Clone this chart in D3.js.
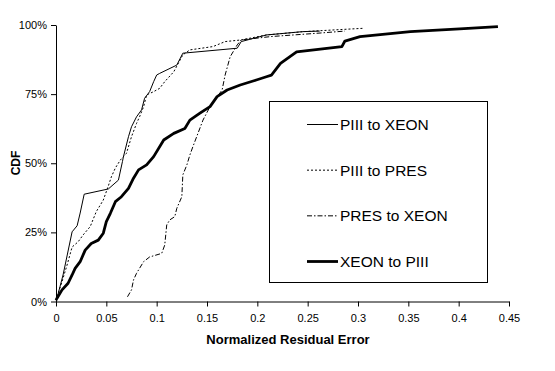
<!DOCTYPE html>
<html>
<head>
<meta charset="utf-8">
<script src="https://cdn.jsdelivr.net/npm/d3@7"></script>
<style>
  body { margin: 0; background: #fff; }
  svg { display: block; font-family: "Liberation Sans", Arial, sans-serif; }
</style>
</head>
<body>
<svg id="chart" width="555" height="371"></svg>
<script>
// [normalized residual error, CDF %]
const piiiToXeon = [
  [0, 0.5], [0.001, 1.3], [0.004, 5.4], [0.007, 9.6], [0.016, 25.2], [0.021, 27.4],
  [0.024, 32.0], [0.028, 38.8], [0.052, 40.7], [0.062, 43.9], [0.066, 50.6],
  [0.067, 52.4], [0.072, 59.6], [0.075, 63.2], [0.080, 66.8], [0.085, 69.3],
  [0.088, 73.5], [0.093, 75.9], [0.097, 79.5], [0.100, 81.9], [0.103, 82.5],
  [0.120, 85.5], [0.126, 89.8], [0.180, 91.6], [0.184, 94.0], [0.209, 96.4],
  [0.245, 97.6], [0.262, 97.8]
];
const piiiToPres = [
  [0, 0.5], [0.006, 7.2], [0.011, 13.2], [0.016, 19.7], [0.022, 21.6], [0.027, 24.1],
  [0.034, 27.1], [0.040, 32.5], [0.047, 36.7], [0.052, 41.8], [0.055, 45.1],
  [0.059, 48.3], [0.064, 51.2], [0.070, 53.6], [0.075, 59.6], [0.080, 64.4],
  [0.083, 66.8], [0.087, 70.4], [0.090, 74.7], [0.097, 75.9], [0.103, 77.1],
  [0.108, 79.5], [0.117, 83.1], [0.126, 89.2], [0.133, 91.0], [0.156, 92.2],
  [0.168, 94.0], [0.184, 94.6], [0.209, 96.4], [0.246, 97.6], [0.285, 98.4],
  [0.305, 98.8]
];
const presToXeon = [
  [0.071, 1.7], [0.075, 4.2], [0.077, 7.8], [0.080, 10.2], [0.087, 14.4],
  [0.093, 16.1], [0.105, 17.4], [0.108, 20.4], [0.110, 27.7], [0.113, 29.5],
  [0.118, 30.7], [0.120, 33.7], [0.125, 37.9], [0.126, 45.8], [0.130, 49.4],
  [0.133, 53.0], [0.136, 56.0], [0.146, 65.6], [0.153, 70.5], [0.165, 76.5],
  [0.168, 81.9], [0.173, 88.5], [0.180, 92.8], [0.184, 94.6], [0.213, 95.8],
  [0.259, 97.0], [0.287, 97.8]
];
const xeonToPiii = [
  [0, 0.5], [0.001, 1.2], [0.006, 4.2], [0.012, 6.6], [0.016, 9.6], [0.019, 12.0],
  [0.024, 14.4], [0.029, 18.6], [0.035, 21.0], [0.042, 22.2], [0.047, 24.7],
  [0.050, 28.9], [0.054, 31.9], [0.059, 36.1], [0.065, 37.9], [0.072, 40.9],
  [0.077, 44.6], [0.082, 47.6], [0.090, 49.4], [0.097, 52.4], [0.107, 58.4],
  [0.117, 60.8], [0.128, 62.6], [0.133, 65.6], [0.143, 68.1], [0.153, 70.5],
  [0.160, 74.1], [0.170, 76.5], [0.183, 78.3], [0.199, 80.1], [0.209, 81.3],
  [0.214, 81.9], [0.223, 86.1], [0.239, 90.3], [0.284, 92.2], [0.287, 94.2],
  [0.302, 95.8], [0.352, 97.6], [0.401, 98.6], [0.439, 99.4]
];

const seriesNames = ["PIII to XEON", "PIII to PRES", "PRES to XEON", "XEON to PIII"];
const xTicks = [0, 0.05, 0.1, 0.15, 0.2, 0.25, 0.3, 0.35, 0.4, 0.45];
const yTicks = [0, 25, 50, 75, 100];

const series = [
  { name: seriesNames[0], values: piiiToXeon, width: 1, dash: null },
  { name: seriesNames[1], values: piiiToPres, width: 1, dash: "2,2" },
  { name: seriesNames[2], values: presToXeon, width: 1, dash: "5,2,1.5,2" },
  { name: seriesNames[3], values: xeonToPiii, width: 2.8, dash: null }
];

const svg = d3.select("#chart");
const x = d3.scaleLinear().domain([0, 0.45]).range([56, 509]);
const y = d3.scaleLinear().domain([0, 100]).range([301.5, 25]);

// axes
const yAxis = svg.append("g")
  .attr("transform", "translate(56,0)")
  .call(d3.axisLeft(y).tickValues(yTicks).tickSize(5).tickSizeOuter(0).tickPadding(4)
    .tickFormat(d => d + "%"));
const xAxis = svg.append("g")
  .attr("transform", "translate(0,301.5)")
  .call(d3.axisBottom(x).tickValues(xTicks).tickSize(5).tickSizeOuter(0).tickPadding(8)
    .tickFormat(d => d === 0 ? "0" : String(d)));

[xAxis, yAxis].forEach(a => {
  a.selectAll("path, line").attr("stroke", "#000").attr("stroke-width", 1);
  a.selectAll("text").attr("font-size", "11px").attr("fill", "#000")
    .attr("font-family", "'Liberation Sans', Arial, sans-serif");
});

// lines
const line = d3.line().x(d => x(d[0])).y(d => y(d[1]));
svg.append("g").selectAll("path").data(series).enter().append("path")
  .attr("d", d => line(d.values))
  .attr("fill", "none")
  .attr("stroke", "#000")
  .attr("stroke-width", d => d.width)
  .attr("stroke-dasharray", d => d.dash)
  .attr("stroke-linejoin", "round");

// axis titles
svg.append("text")
  .attr("x", 288).attr("y", 344)
  .attr("text-anchor", "middle")
  .attr("font-size", "13px").attr("font-weight", "bold")
  .text("Normalized Residual Error");
svg.append("text")
  .attr("transform", "translate(20,163) rotate(-90)")
  .attr("text-anchor", "middle")
  .attr("font-size", "12px").attr("font-weight", "bold")
  .text("CDF");

// legend
const legend = svg.append("g");
legend.append("rect")
  .attr("x", 269.5).attr("y", 101.5).attr("width", 218).attr("height", 181)
  .attr("fill", "#fff").attr("stroke", "#000").attr("stroke-width", 1);
const legendY = d3.scalePoint().domain(seriesNames).range([124.5, 261.5]);
const items = legend.selectAll(".item").data(series).enter().append("g")
  .attr("transform", d => `translate(0,${legendY(d.name)})`);
items.append("line")
  .attr("x1", 307).attr("x2", 338)
  .attr("stroke", "#000")
  .attr("stroke-width", d => d.width)
  .attr("stroke-dasharray", d => d.dash);
items.append("text")
  .attr("x", 340).attr("y", 5.5)
  .attr("font-size", "15.5px")
  .text(d => d.name);
</script>
</body>
</html>
